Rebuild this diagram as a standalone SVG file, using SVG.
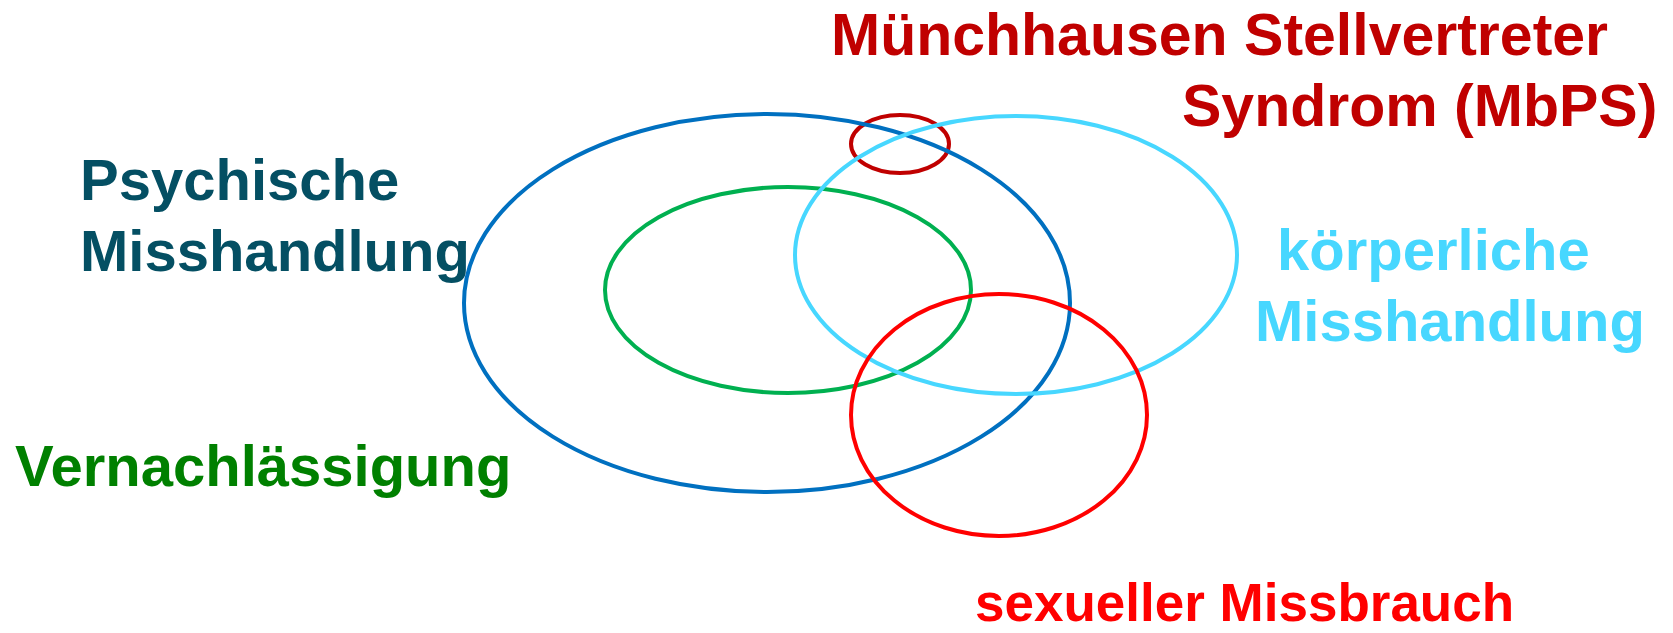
<svg xmlns="http://www.w3.org/2000/svg" width="1673" height="633" viewBox="0 0 1673 633">
<style>
.e{fill:none;stroke-width:4}
.t{font-family:"Liberation Sans",Arial,sans-serif;font-weight:bold}
</style>
<rect width="1673" height="633" fill="#ffffff"/>
<g id="mbps-node">
<ellipse class="e" cx="900" cy="144" rx="49" ry="29" stroke="#C00000"/>
<text class="t" x="831" y="55" font-size="59" fill="#C00000">Münchhausen Stellvertreter</text>
<text class="t" x="1182" y="126" font-size="59" fill="#C00000">Syndrom (MbPS)</text>
</g>
<g id="psychisch-node">
<ellipse class="e" cx="767" cy="303" rx="303" ry="189" stroke="#0070C0"/>
<text class="t" x="80" y="200" font-size="58" fill="#044F63">Psychische</text>
<text class="t" x="80" y="271" font-size="58" fill="#044F63">Misshandlung</text>
</g>
<g id="vernachlaessigung-node">
<ellipse class="e" cx="788" cy="290" rx="183" ry="103" stroke="#00B050"/>
<text class="t" x="15" y="486" font-size="58" fill="#008000">Vernachlässigung</text>
</g>
<g id="koerperlich-node">
<ellipse class="e" cx="1016" cy="255" rx="221" ry="139" stroke="#47D7FF"/>
<text class="t" x="1277" y="270" font-size="58" fill="#47D7FF">körperliche</text>
<text class="t" x="1255" y="341" font-size="58" fill="#47D7FF">Misshandlung</text>
</g>
<g id="sexuell-node">
<ellipse class="e" cx="999" cy="415" rx="148" ry="121" stroke="#FF0000"/>
<text class="t" x="975" y="621" font-size="53" fill="#FF0000">sexueller Missbrauch</text>
</g>
<g id="connectors"></g>
</svg>
